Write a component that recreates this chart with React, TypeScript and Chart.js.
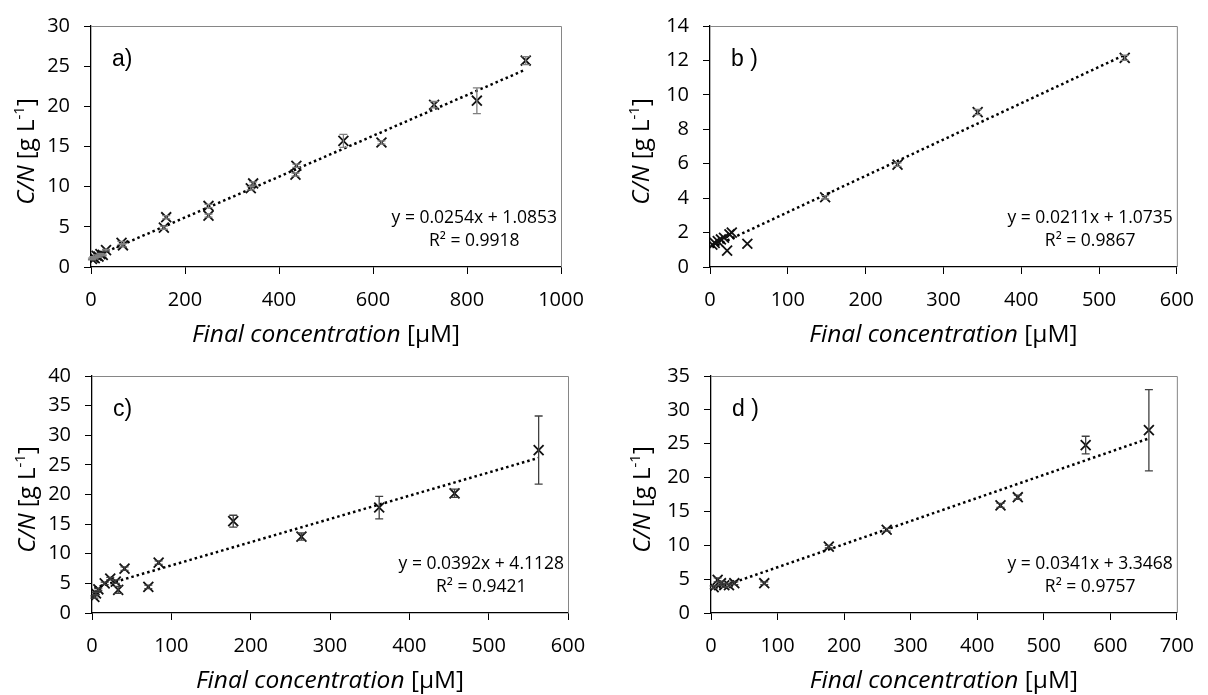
import React, { useEffect, useRef } from 'react';
import { Chart, registerables } from 'chart.js';

Chart.register(...registerables);

// ---------- data ----------
const aX = [2, 5, 8, 12, 16, 20, 25, 32, 65, 68, 155, 160, 250, 250, 340, 345, 435, 437, 537, 618, 730, 821, 925];
const aY = [1.0, 1.2, 1.1, 1.4, 1.3, 1.6, 1.5, 2.1, 3.0, 2.7, 4.9, 6.2, 7.6, 6.4, 9.8, 10.4, 11.5, 12.6, 15.7, 15.5, 20.2, 20.7, 25.7];
const aErr = [0.1, 0.1, 0.1, 0.1, 0.1, 0.1, 0.1, 0.1, 0.2, 0.2, 0.2, 0.2, 0.2, 0.2, 0.2, 0.2, 0.2, 0.2, 0.8, 0.2, 0.4, 1.6, 0.5];

const bX = [3, 6, 10, 14, 18, 22, 25, 28, 48, 148, 241, 344, 533];
const bY = [1.3, 1.4, 1.5, 1.6, 1.7, 0.95, 1.9, 2.0, 1.35, 4.05, 5.95, 9.0, 12.15];
const bErr = [0, 0, 0, 0, 0, 0, 0, 0, 0, 0.1, 0.1, 0.15, 0.15];

const cX = [3, 5, 8, 16, 23, 30, 33, 41, 71, 84, 178, 264, 362, 457, 563];
const cY = [2.7, 3.3, 4.0, 5.0, 5.8, 5.3, 3.9, 7.5, 4.4, 8.5, 15.5, 12.9, 17.8, 20.2, 27.5];
const cErr = [0.2, 0.2, 0.2, 0.2, 0.2, 0.3, 0.6, 0.3, 0.3, 0.3, 1.0, 0.6, 1.9, 0.7, 5.75];

const dX = [4, 10, 15, 20, 27, 35, 80, 177, 264, 435, 461, 563, 658];
const dY = [3.8, 4.9, 4.4, 4.1, 4.1, 4.4, 4.4, 9.8, 12.3, 15.9, 17.1, 24.8, 27.0];
const dErr = [0.2, 0.3, 0.3, 0.3, 0.2, 0.2, 0.2, 0.2, 0.2, 0.3, 0.3, 1.3, 6.0];

const panelLabels = ['a)', 'b )', 'c)', 'd )'];
const xMaxes = [1000, 600, 600, 700];
const xSteps = [200, 100, 100, 100];
const yMaxes = [30, 14, 40, 35];
const ySteps = [5, 2, 5, 5];
const slopes = [0.0254, 0.0211, 0.0392, 0.0341];
const intercepts = [1.0853, 1.0735, 4.1128, 3.3468];
const eqTexts = ['y = 0.0254x + 1.0853', 'y = 0.0211x + 1.0735', 'y = 0.0392x + 4.1128', 'y = 0.0341x + 3.3468'];
const r2Texts = ['R² = 0.9918', 'R² = 0.9867', 'R² = 0.9421', 'R² = 0.9757'];

const seriesX = [aX, bX, cX, dX];
const seriesY = [aY, bY, cY, dY];
const seriesErr = [aErr, bErr, cErr, dErr];

// ---------- layout (pixels) ----------
const layouts = [
  { left: 0, top: 0, w: 600, h: 350, padTop: 25, padRight: 39, yW: 91, xH: 83, yTitleOff: 57, errColor: '#7f7f7f' },
  { left: 604, top: 0, w: 604, h: 350, padTop: 25, padRight: 22, yW: 106, xH: 83, yTitleOff: 61, errColor: '#7f7f7f' },
  { left: 0, top: 350, w: 604, h: 345, padTop: 21, padRight: 36, yW: 92, xH: 82, yTitleOff: 57, errColor: '#404040' },
  { left: 604, top: 350, w: 604, h: 345, padTop: 22, padRight: 21, yW: 107, xH: 82, yTitleOff: 61, errColor: '#404040' },
];

const FONT = "'Open Sans'";

type Seg = { t: string; f: string; dy?: number };

function drawRich(ctx: CanvasRenderingContext2D, segs: Seg[], cx: number, baseline: number) {
  let w = 0;
  for (const s of segs) {
    ctx.font = s.f;
    w += ctx.measureText(s.t).width;
  }
  let x = cx - w / 2;
  ctx.textAlign = 'left';
  ctx.textBaseline = 'alphabetic';
  for (const s of segs) {
    ctx.font = s.f;
    ctx.fillText(s.t, x, baseline + (s.dy || 0));
    x += ctx.measureText(s.t).width;
  }
}

function Panel({ idx }: { idx: number }) {
  const ref = useRef<HTMLCanvasElement | null>(null);
  const L = layouts[idx];
  useEffect(() => {
    if (!ref.current) return;
    const xs = seriesX[idx];
    const ys = seriesY[idx];
    const errs = seriesErr[idx];
    const pts = xs.map((x, i) => ({ x, y: ys[i] }));
    const xLo = Math.min(...xs);
    const xHi = Math.max(...xs);
    const trend = [
      { x: xLo, y: slopes[idx] * xLo + intercepts[idx] },
      { x: xHi, y: slopes[idx] * xHi + intercepts[idx] },
    ];

    const errPlugin = {
      id: 'errbars',
      afterDatasetsDraw(chart: any) {
        const ctx = chart.ctx;
        const xs2 = chart.scales.x;
        const ys2 = chart.scales.y;
        ctx.save();
        ctx.strokeStyle = L.errColor;
        ctx.lineWidth = 1.3;
        xs.forEach((xv, i) => {
          const e = errs[i];
          if (!e) return;
          const px = xs2.getPixelForValue(xv);
          const t = ys2.getPixelForValue(ys[i] + e);
          const b = ys2.getPixelForValue(ys[i] - e);
          ctx.beginPath();
          ctx.moveTo(px, t);
          ctx.lineTo(px, b);
          ctx.moveTo(px - 4, t);
          ctx.lineTo(px + 4, t);
          ctx.moveTo(px - 4, b);
          ctx.lineTo(px + 4, b);
          ctx.stroke();
        });
        ctx.restore();
      },
    };

    const decoPlugin = {
      id: 'deco',
      afterDraw(chart: any) {
        const ctx = chart.ctx as CanvasRenderingContext2D;
        const a = chart.chartArea;
        ctx.save();
        // top / right frame
        ctx.strokeStyle = '#868686';
        ctx.lineWidth = 1;
        ctx.beginPath();
        ctx.moveTo(a.left, a.top + 0.5);
        ctx.lineTo(a.right + 0.5, a.top + 0.5);
        ctx.lineTo(a.right + 0.5, a.bottom);
        ctx.stroke();

        ctx.fillStyle = '#000';
        // panel label
        ctx.font = "23px 'Liberation Sans'";
        ctx.textAlign = 'left';
        ctx.textBaseline = 'alphabetic';
        ctx.fillText(panelLabels[idx], a.left + 21, a.top + 40);

        // equation
        ctx.font = `17.5px ${FONT}`;
        const eqW = ctx.measureText(eqTexts[idx]).width;
        const eqCx = a.right - 4 - eqW / 2;
        ctx.textAlign = 'center';
        ctx.fillText(eqTexts[idx], eqCx, a.bottom - 44);
        ctx.fillText(r2Texts[idx], eqCx, a.bottom - 21);

        // x title
        drawRich(
          ctx,
          [
            { t: 'Final concentration', f: `italic 24.5px ${FONT}` },
            { t: ' [µM]', f: `24.5px ${FONT}` },
          ],
          (a.left + a.right) / 2,
          a.bottom + 75
        );

        // y title
        ctx.save();
        ctx.translate(a.left - L.yTitleOff, (a.top + a.bottom) / 2 + 5);
        ctx.rotate(-Math.PI / 2);
        drawRich(
          ctx,
          [
            { t: 'C/N', f: `italic 24px ${FONT}` },
            { t: ' [g L', f: `24px ${FONT}` },
            { t: '-1', f: `15px ${FONT}`, dy: -10 },
            { t: ']', f: `24px ${FONT}` },
          ],
          0,
          0
        );
        ctx.restore();
        ctx.restore();
      },
    };

    const chart = new Chart(ref.current, {
      type: 'scatter',
      data: {
        datasets: [
          {
            type: 'scatter',
            data: pts,
            pointStyle: 'crossRot',
            pointRadius: 7,
            pointBorderWidth: 1.8,
            borderColor: '#111',
            backgroundColor: '#111',
            order: 1,
          } as any,
          {
            type: 'line',
            data: trend,
            borderColor: '#000',
            borderWidth: 2.5,
            borderDash: [2.5, 3],
            pointRadius: 0,
            fill: false,
            order: 0,
          } as any,
        ],
      },
      options: {
        responsive: false,
        animation: false,
        devicePixelRatio: 1,
        layout: { autoPadding: false, padding: { top: L.padTop, right: L.padRight, left: 0, bottom: 0 } },
        plugins: { legend: { display: false }, tooltip: { enabled: false } },
        scales: {
          x: {
            type: 'linear',
            min: 0,
            max: xMaxes[idx],
            afterFit: (s: any) => {
              s.height = L.xH;
            },
            ticks: {
              stepSize: xSteps[idx],
              color: '#000',
              padding: 14,
              maxRotation: 0,
              font: { family: 'Open Sans', size: 20 },
              callback: (v: any) => String(v),
            },
            grid: { display: true, drawOnChartArea: false, drawTicks: true, tickLength: 7, color: '#000' },
            border: { display: true, color: '#000', width: 1.3 },
          },
          y: {
            type: 'linear',
            min: 0,
            max: yMaxes[idx],
            afterFit: (s: any) => {
              s.width = L.yW;
            },
            ticks: {
              stepSize: ySteps[idx],
              color: '#000',
              padding: 14,
              font: { family: 'Open Sans', size: 20 },
              callback: (v: any) => String(v),
            },
            grid: { display: true, drawOnChartArea: false, drawTicks: true, tickLength: 7, color: '#000' },
            border: { display: true, color: '#000', width: 1.3 },
          },
        },
      } as any,
      plugins: [errPlugin, decoPlugin],
    });
    return () => chart.destroy();
  }, [idx]);

  return (
    <canvas
      ref={ref}
      width={L.w}
      height={L.h}
      style={{ position: 'absolute', left: L.left, top: L.top, width: L.w, height: L.h }}
    />
  );
}

export default function App() {
  return (
    <div style={{ position: 'fixed', left: 0, top: 0, width: 1208, height: 695, background: '#fff' }}>
      {[0, 1, 2, 3].map((i) => (
        <Panel key={i} idx={i} />
      ))}
    </div>
  );
}
